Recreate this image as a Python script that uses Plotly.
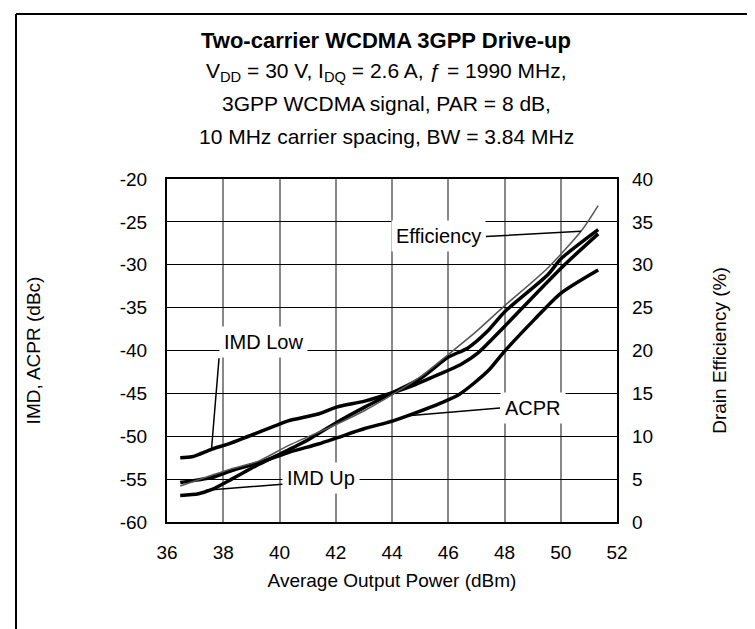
import plotly.graph_objects as go

# Two-carrier WCDMA drive-up curves
imd_low_x = [36.47, 36.89, 37.60, 38.19, 38.90, 39.84, 40.31, 41.38, 42.03, 43.03, 44.04, 44.81, 45.52, 46.46, 47.05, 47.52, 48.00, 50.01, 51.33]
imd_low = [-52.5, -52.4, -51.5, -50.9, -50.0, -48.8, -48.2, -47.4, -46.6, -45.9, -44.9, -44.0, -43.0, -41.6, -40.3, -38.8, -37.2, -30.4, -26.4]

imd_up_x = [36.47, 37.12, 37.60, 38.30, 39.25, 40.31, 41.02, 42.03, 43.03, 44.04, 45.04, 45.99, 46.70, 47.41, 48.00, 49.53, 50.01, 51.33]
imd_up = [-56.9, -56.7, -56.2, -55.0, -53.3, -51.6, -50.4, -48.4, -46.6, -44.9, -43.2, -40.8, -39.7, -37.7, -35.5, -31.2, -29.3, -25.9]

acpr_x = [36.47, 37.60, 38.30, 39.25, 40.31, 41.38, 42.03, 43.03, 44.04, 44.81, 45.75, 46.40, 47.41, 48.00, 49.06, 50.01, 51.33]
acpr = [-55.4, -54.8, -54.0, -53.1, -51.9, -50.9, -50.2, -49.1, -48.2, -47.3, -46.1, -45.1, -42.4, -40.1, -36.4, -33.3, -30.6]

eff_x = [36.47, 38.30, 39.25, 40.31, 42.03, 43.03, 44.04, 45.04, 45.99, 46.99, 48.00, 49.53, 50.72, 51.33]
efficiency = [4.2, 6.2, 7.1, 8.9, 11.4, 13.0, 14.9, 17.0, 19.5, 22.2, 25.2, 29.6, 33.9, 36.9]

x_ticks = [36, 38, 40, 42, 44, 46, 48, 50, 52]
left_ticks = [-60, -55, -50, -45, -40, -35, -30, -25, -20]
right_ticks = [0, 5, 10, 15, 20, 25, 30, 35, 40]

title_lines = [
    "<b>Two-carrier WCDMA 3GPP Drive-up</b>",
    "V<sub>DD</sub> = 30 V, I<sub>DQ</sub> = 2.6 A, ƒ = 1990 MHz,",
    "3GPP WCDMA signal, PAR = 8 dB,",
    "10 MHz carrier spacing, BW = 3.84 MHz",
]

FONT = "Liberation Sans, Arial, sans-serif"
W, H = 755, 629
L, R, T, B = 159, 146, 171, 115


def px_x(p):
    return (p - L) / (W - L - R)


def px_y(p):
    return (H - B - p) / (H - T - B)


fig = go.Figure()
bold = dict(color="black", width=3.5, shape="spline", smoothing=0.7)
fig.add_trace(go.Scatter(x=imd_low_x, y=imd_low, mode="lines", line=bold))
fig.add_trace(go.Scatter(x=imd_up_x, y=imd_up, mode="lines", line=bold))
fig.add_trace(go.Scatter(x=acpr_x, y=acpr, mode="lines", line=bold))
fig.add_trace(go.Scatter(x=eff_x, y=efficiency, mode="lines", yaxis="y2",
                         line=dict(color="#555555", width=1.5, shape="spline", smoothing=0.7)))

# curve labels with leader lines
lbl = dict(showarrow=True, arrowhead=0, arrowwidth=1.5, arrowcolor="black",
           axref="x", bgcolor="white", borderpad=4,
           font=dict(family=FONT, size=20, color="black"))
fig.add_annotation(text="Efficiency", x=50.72, y=33.9, xref="x", yref="y2", ax=47.34, ay=33.3,
                   ayref="y2", xanchor="right", yanchor="middle", **lbl)
fig.add_annotation(text="IMD Low", x=37.58, y=-51.6, xref="x", yref="y", ax=37.85, ay=-40.9,
                   ayref="y", xanchor="left", yanchor="bottom", **lbl)
fig.add_annotation(text="ACPR", x=44.57, y=-47.6, xref="x", yref="y", ax=47.84, ay=-46.7,
                   ayref="y", xanchor="left", yanchor="middle", **lbl)
fig.add_annotation(text="IMD Up", x=37.38, y=-56.3, xref="x", yref="y", ax=42.86, ay=-54.9,
                   ayref="y", xanchor="right", yanchor="middle", **lbl)

for i, (txt, py) in enumerate(zip(title_lines, [32, 64, 96, 128])):
    fig.add_annotation(text=txt, xref="paper", yref="paper", x=px_x(378), y=px_y(py),
                       showarrow=False, xanchor="center", yanchor="middle",
                       font=dict(family=FONT, size=22 if i == 0 else 21, color="black"))

# outer frame (bottom edge is open)
frame = dict(type="line", xref="paper", yref="paper", line=dict(color="black", width=2))
fig.add_shape(x0=px_x(8), x1=px_x(8), y0=px_y(6), y1=px_y(629), **frame)
fig.add_shape(x0=px_x(8), x1=px_x(746), y0=px_y(6), y1=px_y(6), **frame)
fig.add_shape(x0=px_x(746), x1=px_x(746), y0=px_y(6), y1=px_y(560), **frame)

tick_font = dict(family=FONT, size=19, color="black")
axis_title_font = dict(family=FONT, size=19, color="black")
fig.update_layout(
    width=W, height=H,
    margin=dict(l=L, r=R, t=T, b=B),
    paper_bgcolor="white", plot_bgcolor="white",
    showlegend=False,
    font=dict(family=FONT, size=19, color="black"),
    xaxis=dict(range=[36, 52], tickvals=x_ticks, ticktext=[str(v) for v in x_ticks],
               showgrid=True, gridcolor="#888888", gridwidth=1.5,
               showline=True, mirror=True, linecolor="black", linewidth=2, ticks="",
               ticklabelstandoff=12, tickfont=tick_font, zeroline=False,
               title=dict(text="Average Output Power (dBm)", font=axis_title_font, standoff=12)),
    yaxis=dict(range=[-60, -20], tickvals=left_ticks, ticktext=[str(v) for v in left_ticks],
               showgrid=True, gridcolor="black", gridwidth=1,
               showline=True, mirror=True, linecolor="black", linewidth=2, ticks="",
               ticklabelstandoff=14, tickfont=tick_font, zeroline=False,
               title=dict(text="IMD, ACPR (dBc)", font=axis_title_font, standoff=74)),
    yaxis2=dict(range=[0, 40], tickvals=right_ticks, ticktext=[str(v) for v in right_ticks],
                overlaying="y", side="right", showgrid=False,
                ticks="", ticklabelstandoff=14, tickfont=tick_font, zeroline=False,
                title=dict(text="Drain Efficiency (%)", font=axis_title_font, standoff=60)),
)

fig.write_html("out.html")
